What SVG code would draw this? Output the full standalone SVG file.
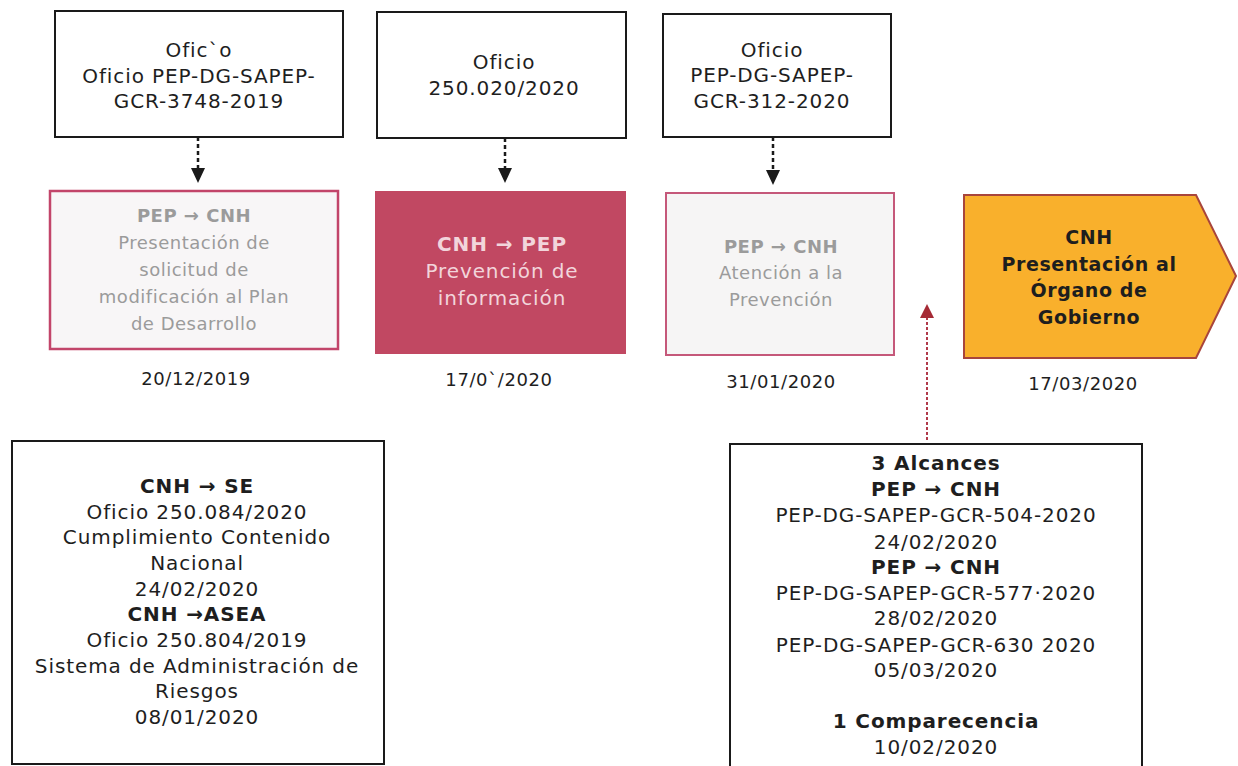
<svg xmlns="http://www.w3.org/2000/svg" width="1238" height="766" viewBox="0 0 1238 766">
<defs>
<style>
text{font-family:"DejaVu Sans","Noto Sans",sans-serif;text-anchor:middle;}
.t{font-size:20px;letter-spacing:0.9px;fill:#1e1e1e;}
.b{font-weight:bold;}
.g{fill:#9b9b9b;font-size:18px;letter-spacing:0.5px;}
.w{fill:#f2d5db;font-size:20px;letter-spacing:0.9px;}
.o{font-size:19px;letter-spacing:0.6px;fill:#1e1e1e;font-weight:bold;}
.d{font-size:18px;letter-spacing:0.6px;fill:#1e1e1e;}
.doc{fill:#ffffff;stroke:#1a1a1a;stroke-width:2;}
.dash{stroke:#1a1a1a;stroke-width:2.5;stroke-dasharray:4 3;fill:none;}
.head{fill:#1a1a1a;}
</style>
</defs>
<rect width="1238" height="766" fill="#ffffff"/>

<g id="oficio1">
<rect class="doc" x="55" y="11" width="288" height="126"/>
<text class="t" x="199" y="57">Ofic`o</text>
<text class="t" x="199" y="83">Oficio PEP-DG-SAPEP-</text>
<text class="t" x="199" y="108">GCR-3748-2019</text>
</g>
<g id="oficio2">
<rect class="doc" x="377" y="12" width="249" height="126"/>
<text class="t" x="504" y="69">Oficio</text>
<text class="t" x="504" y="95">250.020/2020</text>
</g>
<g id="oficio3">
<rect class="doc" x="663" y="14" width="228" height="123"/>
<text class="t" x="772" y="57">Oficio</text>
<text class="t" x="772" y="82">PEP-DG-SAPEP-</text>
<text class="t" x="772" y="108">GCR-312-2020</text>
</g>

<g id="connectors">
<line class="dash" x1="198" y1="137" x2="198" y2="168"/>
<path class="head" d="M191,168 L205,168 L198,183 Z"/>
<line class="dash" x1="505" y1="138" x2="505" y2="168"/>
<path class="head" d="M498,168 L512,168 L505,183 Z"/>
<line class="dash" x1="773" y1="137" x2="773" y2="170"/>
<path class="head" d="M766,170 L780,170 L773,185 Z"/>
<line x1="927" y1="440" x2="927" y2="318" stroke="#b03a4a" stroke-width="2" stroke-dasharray="3 2"/>
<path d="M927,304 L920,318 L934,318 Z" fill="#a52a35"/>
</g>

<g id="step1">
<rect x="50" y="191" width="288" height="158" fill="#f8f6f7" stroke="#c2456a" stroke-width="2.5"/>
<text class="g b" x="194" y="222">PEP → CNH</text>
<text class="g" x="194" y="249">Presentación de</text>
<text class="g" x="194" y="276">solicitud de</text>
<text class="g" x="194" y="303">modificación al Plan</text>
<text class="g" x="194" y="330">de Desarrollo</text>
<text class="d" x="196" y="385">20/12/2019</text>
</g>
<g id="step2">
<rect x="375" y="191" width="251" height="163" fill="#c14862"/>
<text class="w b" x="502" y="251">CNH → PEP</text>
<text class="w" x="502" y="278">Prevención de</text>
<text class="w" x="502" y="305">información</text>
<text class="d" x="499" y="386">17/0`/2020</text>
</g>
<g id="step3">
<rect x="666" y="193" width="228" height="162" fill="#f6f5f5" stroke="#c5587a" stroke-width="2"/>
<text class="g b" x="781" y="253">PEP → CNH</text>
<text class="g" x="781" y="279">Atención a la</text>
<text class="g" x="781" y="306">Prevención</text>
<text class="d" x="781" y="388">31/01/2020</text>
</g>
<g id="step4">
<path d="M964,195 L1196,195 L1236,276 L1196,358 L964,358 Z" fill="#f9b02c" stroke="#a8453c" stroke-width="2"/>
<text class="o" x="1089" y="244">CNH</text>
<text class="o" x="1089" y="271">Presentación al</text>
<text class="o" x="1089" y="297">Órgano de</text>
<text class="o" x="1089" y="324">Gobierno</text>
<text class="d" x="1083" y="390">17/03/2020</text>
</g>

<g id="notes-left">
<rect class="doc" x="12" y="441" width="372" height="323"/>
<text class="t b" x="197" y="493">CNH → SE</text>
<text class="t" x="197" y="519">Oficio 250.084/2020</text>
<text class="t" x="197" y="544">Cumplimiento Contenido</text>
<text class="t" x="197" y="570">Nacional</text>
<text class="t" x="197" y="596">24/02/2020</text>
<text class="t b" x="197" y="621">CNH →ASEA</text>
<text class="t" x="197" y="647">Oficio 250.804/2019</text>
<text class="t" x="197" y="673">Sistema de Administración de</text>
<text class="t" x="197" y="698">Riesgos</text>
<text class="t" x="197" y="724">08/01/2020</text>
</g>
<g id="notes-right">
<rect class="doc" x="730" y="444" width="412" height="330"/>
<text class="t b" x="936" y="470">3 Alcances</text>
<text class="t b" x="936" y="496">PEP → CNH</text>
<text class="t" x="936" y="522">PEP-DG-SAPEP-GCR-504-2020</text>
<text class="t" x="936" y="549">24/02/2020</text>
<text class="t b" x="936" y="574">PEP → CNH</text>
<text class="t" x="936" y="600">PEP-DG-SAPEP-GCR-577·2020</text>
<text class="t" x="936" y="625">28/02/2020</text>
<text class="t" x="936" y="652">PEP-DG-SAPEP-GCR-630 2020</text>
<text class="t" x="936" y="677">05/03/2020</text>
<text class="t b" x="936" y="728">1 Comparecencia</text>
<text class="t" x="936" y="754">10/02/2020</text>
</g>
</svg>
